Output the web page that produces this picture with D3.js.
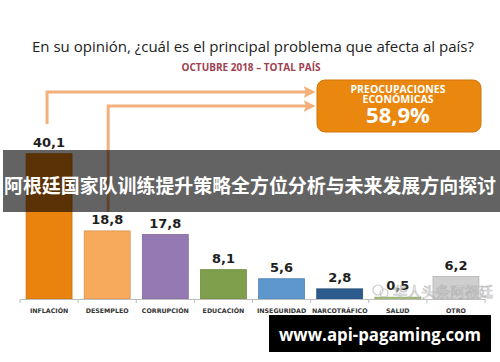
<!DOCTYPE html>
<html>
<head>
<meta charset="utf-8">
<script src="https://cdn.jsdelivr.net/npm/d3@7"></script>
<style>
  html, body { margin: 0; padding: 0; background: #fff; }
  svg { display: block; }
</style>
</head>
<body>
<div id="chart"></div>
<script>
const categories = ['INFLACIÓN', 'DESEMPLEO', 'CORRUPCIÓN', 'EDUCACIÓN', 'INSEGURIDAD', 'NARCOTRÁFICO', 'SALUD', 'OTRO']
const values = [40.1, 18.8, 17.8, 8.1, 5.6, 2.8, 0.5, 6.2]
const valueLabels = ['40,1', '18,8', '17,8', '8,1', '5,6', '2,8', '0,5', '6,2']
const barColors = ['#EA820E', '#F7A95C', '#9479B3', '#809F4C', '#5D97CE', '#2C5B8E', '#A7C27A', '#CFCFCF']
const titleText = 'En su opinión, ¿cuál es el principal problema que afecta al país?'
const subtitleText = 'OCTUBRE 2018 – TOTAL PAÍS'
const boxLines = ['PREOCUPACIONES', 'ECONÓMICAS']
const boxValue = '58,9%'
const overlayText = '阿根廷国家队训练提升策略全方位分析与未来发展方向探讨'
const watermarkText = '华人头条阿根廷'
const siteText = 'www.api-pagaming.com'

const width = 500
const height = 362

const svg = d3.select('#chart').append('svg')
  .attr('width', width)
  .attr('height', height)

// scales
const x = d3.scaleBand()
  .domain(categories)
  .range([20, 485])
  .paddingInner(0.21)
  .paddingOuter(0.105)

const y = d3.scaleLinear()
  .domain([0, 45])
  .range([299, 299 - 163])

// title
svg.append('text')
  .attr('x', 32).attr('y', 52)
  .attr('textLength', 442)
  .attr('lengthAdjust', 'spacingAndGlyphs')
  .attr('font-family', 'Open Sans, DejaVu Sans, sans-serif')
  .attr('font-size', 14)
  .attr('fill', '#222')
  .text(titleText)

svg.append('text')
  .attr('x', 251).attr('y', 71)
  .attr('text-anchor', 'middle')
  .attr('font-family', 'Open Sans, DejaVu Sans, sans-serif')
  .attr('font-weight', 'bold')
  .attr('font-size', 10)
  .attr('fill', '#9E3F52')
  .text(subtitleText)

// arrows into the box
const arrowColor = '#F4B07A'
const defs = svg.append('defs')
defs.append('marker')
  .attr('id', 'arrowHead')
  .attr('viewBox', '0 0 10 10')
  .attr('refX', 2).attr('refY', 5)
  .attr('markerWidth', 4).attr('markerHeight', 4)
  .attr('markerUnits', 'strokeWidth')
  .attr('orient', 'auto')
  .append('path')
  .attr('d', 'M0,0 L10,5 L0,10 L2,5 Z')
  .attr('fill', arrowColor)

const arrowG = svg.append('g')
  .attr('fill', 'none')
  .attr('stroke', arrowColor)
  .attr('stroke-width', 3)
arrowG.append('path')
  .attr('d', `M${x('INFLACIÓN') + x.bandwidth() / 2 - 2},124 V92 H306`)
  .attr('marker-end', 'url(#arrowHead)')
arrowG.append('path')
  .attr('d', `M${x('DESEMPLEO') + x.bandwidth() / 2 + 1},212 V106 H306`)
  .attr('marker-end', 'url(#arrowHead)')

// summary box
const boxG = svg.append('g')
boxG.append('rect')
  .attr('x', 317).attr('y', 80)
  .attr('width', 164).attr('height', 52)
  .attr('rx', 8).attr('ry', 8)
  .attr('fill', '#E9870F')
  .attr('stroke', '#D27508')
  .attr('stroke-width', 1)
boxLines.forEach((t, i) => {
  boxG.append('text')
    .attr('x', 398).attr('y', 93 + i * 9.5)
    .attr('text-anchor', 'middle')
    .attr('font-family', 'Open Sans, DejaVu Sans, sans-serif')
    .attr('font-weight', 'bold')
    .attr('font-size', 10.5)
    .attr('fill', '#fff')
    .text(t)
})
boxG.append('text')
  .attr('x', 398).attr('y', 123)
  .attr('text-anchor', 'middle')
  .attr('font-family', 'Open Sans, DejaVu Sans, sans-serif')
  .attr('font-weight', 'bold')
  .attr('font-size', 22)
  .attr('fill', '#fff')
  .text(boxValue)

// bars
const barG = svg.append('g')
barG.selectAll('rect')
  .data(values)
  .join('rect')
  .attr('x', (d, i) => x(categories[i]))
  .attr('y', d => y(d))
  .attr('width', x.bandwidth())
  .attr('height', d => y(0) - y(d))
  .attr('fill', (d, i) => barColors[i])
  .attr('stroke', (d, i) => d3.color(barColors[i]).darker(0.4))
  .attr('stroke-width', 0.8)

barG.selectAll('text.val')
  .data(values)
  .join('text')
  .attr('class', 'val')
  .attr('x', (d, i) => x(categories[i]) + x.bandwidth() / 2)
  .attr('y', d => y(d) - 7)
  .attr('text-anchor', 'middle')
  .attr('font-family', 'DejaVu Sans, sans-serif')
  .attr('font-weight', 'bold')
  .attr('font-size', 13)
  .attr('fill', '#1e1e1e')
  .text((d, i) => valueLabels[i])

// axis
const axisG = svg.append('g')
  .attr('transform', `translate(0,${y(0)})`)
  .call(d3.axisBottom(x).tickSize(0).tickPadding(10))
axisG.select('.domain').attr('stroke', '#bdbdbd')
axisG.selectAll('text')
  .attr('font-family', 'DejaVu Sans, sans-serif')
  .attr('font-weight', 'bold')
  .attr('font-size', 6.3)
  .attr('fill', '#333')
const step = x.step()
axisG.selectAll('line.sep')
  .data(d3.range(categories.length + 1))
  .join('line')
  .attr('class', 'sep')
  .attr('x1', i => 20 + i * step)
  .attr('x2', i => 20 + i * step)
  .attr('y1', 0).attr('y2', 4)
  .attr('stroke', '#bdbdbd')

// watermark
const wm = svg.append('g').attr('opacity', 0.75)
wm.append('circle')
  .attr('cx', 378).attr('cy', 290).attr('r', 5)
  .attr('fill', 'none').attr('stroke', '#bbb').attr('stroke-width', 1.2)
wm.append('circle')
  .attr('cx', 384).attr('cy', 293).attr('r', 4)
  .attr('fill', 'none').attr('stroke', '#bbb').attr('stroke-width', 1.2)
wm.append('text')
  .attr('x', 393).attr('y', 297)
  .attr('textLength', 100)
  .attr('lengthAdjust', 'spacingAndGlyphs')
  .attr('font-family', 'Noto Sans CJK SC, sans-serif')
  .attr('font-size', 14)
  .attr('fill', '#fff')
  .attr('stroke', '#a8a8a8')
  .attr('stroke-width', 0.7)
  .text(watermarkText)

// dark overlay band with headline
svg.append('rect')
  .attr('x', 3).attr('y', 150)
  .attr('width', 497).attr('height', 62)
  .attr('fill', '#000')
  .attr('opacity', 0.61)
svg.append('text')
  .attr('x', 4).attr('y', 193)
  .attr('textLength', 492)
  .attr('lengthAdjust', 'spacingAndGlyphs')
  .attr('font-family', 'Noto Sans CJK SC, sans-serif')
  .attr('font-weight', 'bold')
  .attr('font-size', 19.5)
  .attr('fill', '#fff')
  .text(overlayText)

// site label box
svg.append('rect')
  .attr('x', 269).attr('y', 315)
  .attr('width', 222).attr('height', 37)
  .attr('fill', '#000')
svg.append('text')
  .attr('x', 380).attr('y', 341)
  .attr('text-anchor', 'middle')
  .attr('textLength', 202)
  .attr('lengthAdjust', 'spacingAndGlyphs')
  .attr('font-family', 'Open Sans, DejaVu Sans, sans-serif')
  .attr('font-weight', 'bold')
  .attr('font-size', 18)
  .attr('fill', '#fff')
  .text(siteText)
</script>
</body>
</html>
